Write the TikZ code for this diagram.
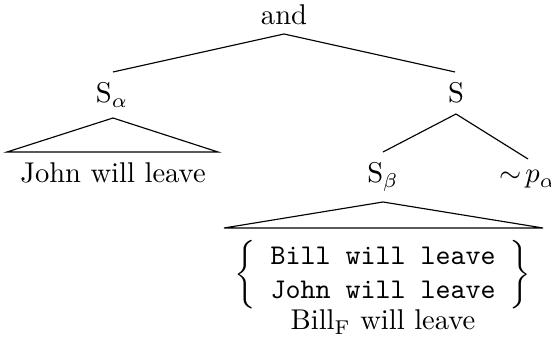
\documentclass[tikz,border=0pt]{standalone}
\begin{document}
\begin{tikzpicture}[x=0.35pt,y=-0.35pt,
  lbl/.style={anchor=base,inner sep=0pt},
  edge/.style={draw=black,line width=0.4pt},
  roof/.style={draw=black,line width=0.4pt,line join=miter}]
\useasboundingbox (0,0) rectangle (551,343);
% nodes
\node[lbl] (and) at (284,25) {and};
\node[lbl] (Sa) at (112,103) {S$_\alpha$};
\node[lbl] (S) at (456,103) {S};
\node[lbl] (john) at (113,183) {John will leave};
\node[lbl] (Sb) at (383,183) {S$_\beta$};
\node[lbl] (np) at (528,183) {$\sim\!p_\alpha$};
\node[inner sep=0pt] (alts) at (383,275) {$\left\{\begin{array}{c}\texttt{Bill will leave}\\\texttt{John will leave}\end{array}\right\}$};
\node[lbl] (billf) at (383,330) {Bill$_{\mathrm{F}}$ will leave};
% attachment points
\coordinate (and-s) at (284,34);
\coordinate (Sa-n) at (113,72);
\coordinate (S-n) at (455,72);
\coordinate (Sa-s) at (113,118);
\coordinate (john-l) at (7,152);
\coordinate (john-r) at (218,152);
\coordinate (S-s) at (456,114);
\coordinate (Sb-n) at (383,152);
\coordinate (np-n) at (528,159);
\coordinate (Sb-s) at (383,202);
\coordinate (alts-l) at (224,228);
\coordinate (alts-r) at (543,228);
% edges
\draw[edge] (and-s) -- (Sa-n);
\draw[edge] (and-s) -- (S-n);
\draw[roof] (Sa-s) -- (john-l) -- (john-r) -- cycle;
\draw[edge] (S-s) -- (Sb-n);
\draw[edge] (S-s) -- (np-n);
\draw[roof] (Sb-s) -- (alts-l) -- (alts-r) -- cycle;
\end{tikzpicture}
\end{document}
